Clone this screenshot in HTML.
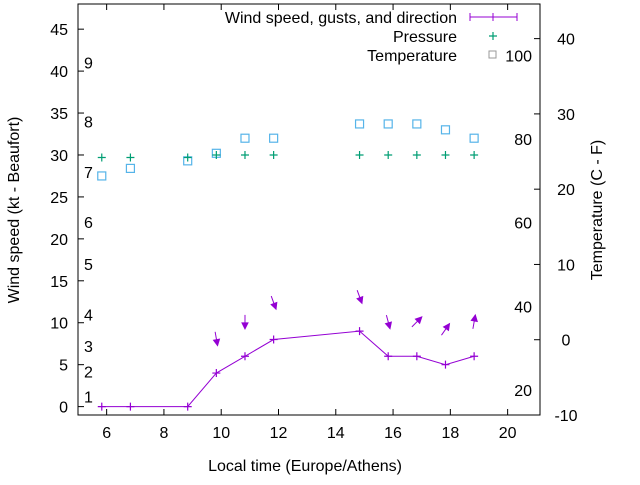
<!DOCTYPE html>
<html><head><meta charset="utf-8"><style>
body{margin:0;background:#fff}
svg{font-family:"Liberation Sans",sans-serif;font-size:16px}
</style></head><body>
<svg id="c" width="640" height="480" viewBox="0 0 640 480">
<rect x="0" y="0" width="640" height="480" fill="#fff"/>
<g id="g"></g>
</svg>
<script>
const times=[5.83,6.83,8.83,9.83,10.83,11.83,14.83,15.83,16.83,17.83,18.83];
const wind=[0,0,0,4,6,8,9,6,6,5,6];
const gusts=[null,null,null,8.1,10.1,12.4,13.1,10.1,10.1,9.2,10.1];
const gustDir=[null,null,null,170,180,160,160,165,45,35,10];
const pressure=[29.7,29.7,29.7,30,30,30,30,30,30,30,30];
const temperature=[27.5,28.4,29.3,30.2,32,32,33.7,33.7,33.7,33,32];
const xTicks=[6,8,10,12,14,16,18,20];
const yTicks=[0,5,10,15,20,25,30,35,40,45];
const tTicks=[-10,0,10,20,30,40];
const fLabels=[20,40,60,80,100];
const bLabels=[1,2,3,4,5,6,7,8,9];
const bYs=[1.2,4.2,7.2,11,17,22,28,34,41];
const L=78,R=540,T=4,B=415;
const X=v=>L+(v-5)*(R-L)/(21.13-5);
const Y=v=>B-(v+1)*(B-T)/(48+1);
const TY=c=>B-(c+10)*(B-T)/(44.6+10);
const FY=f=>TY((f-32)*5/9);
const g=document.getElementById('g');
const NS='http://www.w3.org/2000/svg';
function el(t,a,txt){const e=document.createElementNS(NS,t);for(const k in a)e.setAttribute(k,a[k]);if(txt!==undefined)e.textContent=txt;g.appendChild(e);return e;}
let e;
e=el('rect',{x:L,y:T,width:R-L,height:B-T,fill:'none',stroke:'#000','stroke-width':1});

xTicks.forEach(v=>{const x=X(v);
 el('line',{x1:x,x2:x,y1:B,y2:B-6,stroke:'#000'});el('line',{x1:x,x2:x,y1:T,y2:T+6,stroke:'#000'});
 e=el('text',{x:x,y:B+23,'text-anchor':'middle'},v);});
yTicks.forEach(v=>{const y=Y(v);
 el('line',{x1:L,x2:L+6,y1:y,y2:y,stroke:'#000'});
 e=el('text',{x:L-10,y:y+6,'text-anchor':'end'},v);});
tTicks.forEach(v=>{const y=TY(v);
 el('line',{x1:R,x2:R-6,y1:y,y2:y,stroke:'#000'});
 e=el('text',{x:R+26,y:y+6,'text-anchor':'middle'},v);});
fLabels.forEach(v=>{e=el('text',{x:R-8,y:FY(v)+6,'text-anchor':'end'},v);});
bLabels.forEach((v,i)=>{e=el('text',{x:84,y:Y(bYs[i])+6},v);});
temperature.forEach((v,i)=>{e=el('rect',{x:X(times[i])-4,y:Y(v)-4,width:8,height:8,fill:'none',stroke:'#56b4e9','stroke-width':1.2});
 });
pressure.forEach((v,i)=>{const x=X(times[i]),y=Y(v);
 e=el('path',{d:`M${x-4},${y}H${x+4}M${x},${y-4}V${y+4}`,stroke:'#009e73','stroke-width':1.2});
 });
e=el('polyline',{points:times.map((t,i)=>X(t)+','+Y(wind[i])).join(' '),fill:'none',stroke:'#9400d3','stroke-width':1});

wind.forEach((v,i)=>{const x=X(times[i]),y=Y(v);
 e=el('path',{d:`M${x-4},${y}H${x+4}M${x},${y-4}V${y+4}`,stroke:'#9400d3','stroke-width':1.2});
 });
gusts.forEach((v,i)=>{if(v===null)return;const cx=X(times[i]),cy=Y(v);
 const a=gustDir[i]*Math.PI/180,dx=Math.sin(a),dy=-Math.cos(a),h=7;
 const x1=cx-dx*h,y1=cy-dy*h,x2=cx+dx*h,y2=cy+dy*h;
 const px=-dy,py=dx;
 e=el('line',{x1:x1,y1:y1,x2:x2,y2:y2,stroke:'#9400d3','stroke-width':1});
 
 e=el('path',{d:`M${x2},${y2}L${x2-dx*6+px*3},${y2-dy*6+py*3}L${x2-dx*6-px*3},${y2-dy*6-py*3}Z`,fill:'#9400d3',stroke:'#9400d3'});
 });
e=el('text',{x:457,y:23,'text-anchor':'end'},'Wind speed, gusts, and direction');
el('path',{d:'M470,17H517M470,13V21M517,13V21M493,13V21',stroke:'#9400d3','stroke-width':1});
e=el('text',{x:457,y:42,'text-anchor':'end'},'Pressure');
el('path',{d:'M489,36H497M493,32V40',stroke:'#009e73','stroke-width':1.2});
e=el('text',{x:457,y:61,'text-anchor':'end'},'Temperature');
el('rect',{x:489,y:51,width:7,height:7,fill:'none',stroke:'#999'});
e=el('text',{x:305,y:471,'text-anchor':'middle'},'Local time (Europe/Athens)');
e=el('text',{x:0,y:0,'text-anchor':'middle',transform:'translate(19,210) rotate(-90)'},'Wind speed (kt - Beaufort)');
e=el('text',{x:0,y:0,'text-anchor':'middle',transform:'translate(602,210) rotate(-90)'},'Temperature (C - F)');
</script>
</body></html>
